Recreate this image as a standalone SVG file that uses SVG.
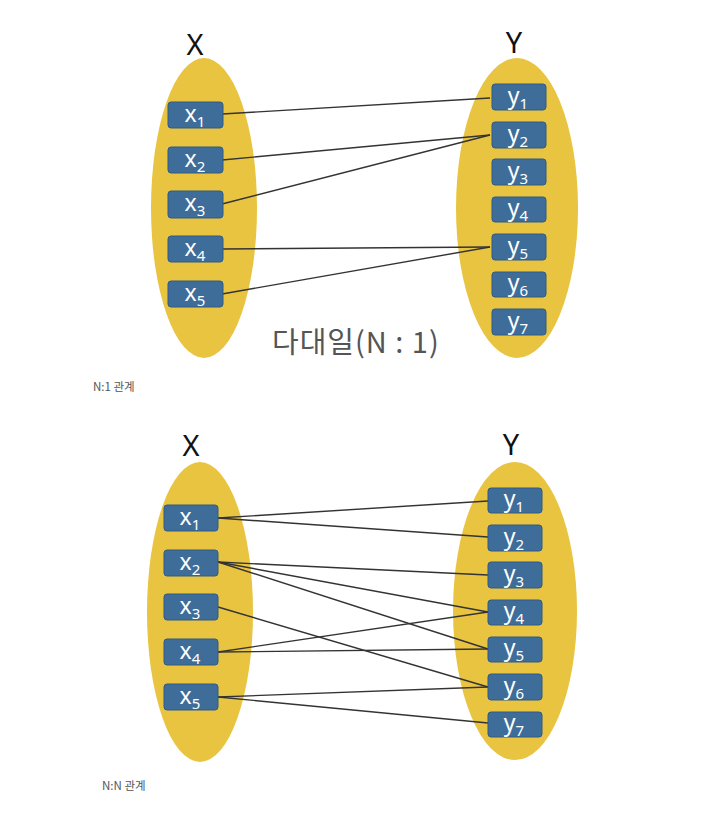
<svg xmlns="http://www.w3.org/2000/svg" width="708" height="815" viewBox="0 0 708 815">
<style>
.set{fill:#E9C440;}
.box rect{fill:#3E6D9A;stroke:#2f5a84;stroke-width:1;}
.box text{fill:#ffffff;font-family:"Noto Sans","Open Sans",sans-serif;font-size:23px;text-anchor:middle;}
.sub{font-size:15px;}
.lbl{font-family:"Noto Sans","Open Sans",sans-serif;font-size:29px;fill:#111;text-anchor:middle;}
.conn line{stroke:#333;stroke-width:1.4;}
.title{font-family:"Noto Sans CJK KR","Noto Sans",sans-serif;font-size:29px;fill:#555;letter-spacing:1px;}
.cap{font-family:"Noto Sans CJK KR","Noto Sans",sans-serif;font-size:11.5px;fill:#555;}
</style>
<rect width="708" height="815" fill="#fff"/>

<!-- Top diagram -->
<g id="setX1"><ellipse class="set" cx="204" cy="208" rx="53" ry="150"/><text class="lbl" x="195" y="55">X</text></g>
<g id="setY1"><ellipse class="set" cx="517" cy="208" rx="61" ry="150"/><text class="lbl" x="514" y="53">Y</text></g>

<g id="conn1" class="conn">
<line x1="222" y1="114" x2="490" y2="98"/>
<line x1="222" y1="160" x2="490" y2="135"/>
<line x1="222" y1="204" x2="490" y2="135"/>
<line x1="222" y1="249" x2="490" y2="247"/>
<line x1="222" y1="294" x2="490" y2="247"/>
</g>

<g id="t-x1" class="box"><rect x="168" y="102" width="55" height="26" rx="3"/><text x="195" y="122">x<tspan class="sub" dy="5">1</tspan></text></g>
<g id="t-x2" class="box"><rect x="168" y="147" width="55" height="26" rx="3"/><text x="195" y="167">x<tspan class="sub" dy="5">2</tspan></text></g>
<g id="t-x3" class="box"><rect x="168" y="191" width="55" height="27" rx="3"/><text x="195" y="211">x<tspan class="sub" dy="5">3</tspan></text></g>
<g id="t-x4" class="box"><rect x="168" y="236" width="55" height="26" rx="3"/><text x="195" y="256">x<tspan class="sub" dy="5">4</tspan></text></g>
<g id="t-x5" class="box"><rect x="168" y="281" width="55" height="26" rx="3"/><text x="195" y="301">x<tspan class="sub" dy="5">5</tspan></text></g>

<g id="t-y1" class="box"><rect x="492" y="84" width="54" height="26" rx="3"/><text x="518" y="104">y<tspan class="sub" dy="5">1</tspan></text></g>
<g id="t-y2" class="box"><rect x="492" y="122" width="54" height="26" rx="3"/><text x="518" y="142">y<tspan class="sub" dy="5">2</tspan></text></g>
<g id="t-y3" class="box"><rect x="492" y="159" width="54" height="26" rx="3"/><text x="518" y="179">y<tspan class="sub" dy="5">3</tspan></text></g>
<g id="t-y4" class="box"><rect x="492" y="197" width="54" height="25" rx="3"/><text x="518" y="216">y<tspan class="sub" dy="5">4</tspan></text></g>
<g id="t-y5" class="box"><rect x="492" y="234" width="54" height="26" rx="3"/><text x="518" y="254">y<tspan class="sub" dy="5">5</tspan></text></g>
<g id="t-y6" class="box"><rect x="492" y="272" width="54" height="25" rx="3"/><text x="518" y="291">y<tspan class="sub" dy="5">6</tspan></text></g>
<g id="t-y7" class="box"><rect x="492" y="309" width="54" height="26" rx="3"/><text x="518" y="329">y<tspan class="sub" dy="5">7</tspan></text></g>

<text class="title" x="272" y="353">다대일(N : 1)</text>
<text class="cap" x="93" y="391">N:1 관계</text>

<!-- Bottom diagram -->
<g id="setX2"><ellipse class="set" cx="200" cy="612" rx="53" ry="150"/><text class="lbl" x="191" y="456">X</text></g>
<g id="setY2"><ellipse class="set" cx="515" cy="611" rx="62" ry="149"/><text class="lbl" x="511" y="455">Y</text></g>

<g id="conn2" class="conn">
<line x1="218" y1="518" x2="488" y2="501"/>
<line x1="218" y1="518" x2="488" y2="537"/>
<line x1="218" y1="562" x2="488" y2="575"/>
<line x1="218" y1="562" x2="488" y2="612"/>
<line x1="218" y1="562" x2="488" y2="649"/>
<line x1="218" y1="607" x2="488" y2="687"/>
<line x1="218" y1="652" x2="488" y2="612"/>
<line x1="218" y1="652" x2="488" y2="649"/>
<line x1="218" y1="697" x2="488" y2="687"/>
<line x1="218" y1="697" x2="488" y2="723"/>
</g>

<g id="b-x1" class="box"><rect x="164" y="505" width="54" height="26" rx="3"/><text x="190" y="525">x<tspan class="sub" dy="5">1</tspan></text></g>
<g id="b-x2" class="box"><rect x="164" y="550" width="54" height="26" rx="3"/><text x="190" y="570">x<tspan class="sub" dy="5">2</tspan></text></g>
<g id="b-x3" class="box"><rect x="164" y="594" width="54" height="26" rx="3"/><text x="190" y="614">x<tspan class="sub" dy="5">3</tspan></text></g>
<g id="b-x4" class="box"><rect x="164" y="639" width="54" height="26" rx="3"/><text x="190" y="659">x<tspan class="sub" dy="5">4</tspan></text></g>
<g id="b-x5" class="box"><rect x="164" y="684" width="54" height="26" rx="3"/><text x="190" y="704">x<tspan class="sub" dy="5">5</tspan></text></g>

<g id="b-y1" class="box"><rect x="488" y="488" width="54" height="25" rx="3"/><text x="514" y="507">y<tspan class="sub" dy="5">1</tspan></text></g>
<g id="b-y2" class="box"><rect x="488" y="525" width="54" height="26" rx="3"/><text x="514" y="545">y<tspan class="sub" dy="5">2</tspan></text></g>
<g id="b-y3" class="box"><rect x="488" y="562" width="54" height="26" rx="3"/><text x="514" y="582">y<tspan class="sub" dy="5">3</tspan></text></g>
<g id="b-y4" class="box"><rect x="488" y="600" width="54" height="25" rx="3"/><text x="514" y="619">y<tspan class="sub" dy="5">4</tspan></text></g>
<g id="b-y5" class="box"><rect x="488" y="637" width="54" height="25" rx="3"/><text x="514" y="656">y<tspan class="sub" dy="5">5</tspan></text></g>
<g id="b-y6" class="box"><rect x="488" y="674" width="54" height="26" rx="3"/><text x="514" y="694">y<tspan class="sub" dy="5">6</tspan></text></g>
<g id="b-y7" class="box"><rect x="488" y="712" width="54" height="25" rx="3"/><text x="514" y="731">y<tspan class="sub" dy="5">7</tspan></text></g>

<text class="cap" x="102" y="790">N:N 관계</text>
</svg>
